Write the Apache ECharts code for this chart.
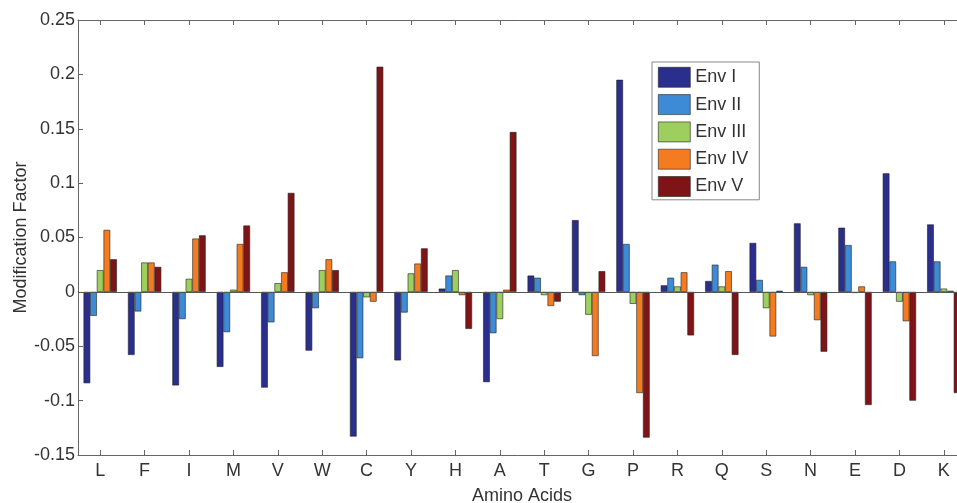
<!DOCTYPE html>
<html>
<head>
<meta charset="utf-8">
<script src="https://cdn.jsdelivr.net/npm/echarts@6/dist/echarts.min.js"></script>
<style>
    html, body { margin: 0; padding: 0; background: #fff; }
    #chart { width: 957px; height: 503px; }
</style>
</head>
<body>
<div id="chart"></div>
<script>
    // amino acids on the x axis
    const aminoAcids = ['L', 'F', 'I', 'M', 'V', 'W', 'C', 'Y', 'H', 'A', 'T', 'G', 'P', 'R', 'Q', 'S', 'N', 'E', 'D', 'K'];

    const envNames = ['Env I', 'Env II', 'Env III', 'Env IV', 'Env V'];

    // modification factor per environment
    const envI   = [-0.084, -0.058, -0.086, -0.069, -0.088, -0.054, -0.133, -0.063, 0.003, -0.083, 0.015, 0.066, 0.195, 0.006, 0.010, 0.045, 0.063, 0.059, 0.109, 0.062];
    const envII  = [-0.022, -0.018, -0.025, -0.037, -0.028, -0.015, -0.061, -0.019, 0.015, -0.038, 0.013, -0.003, 0.044, 0.013, 0.025, 0.011, 0.023, 0.043, 0.028, 0.028];
    const envIII = [0.020, 0.027, 0.012, 0.002, 0.008, 0.020, -0.005, 0.017, 0.020, -0.025, -0.003, -0.021, -0.011, 0.005, 0.005, -0.015, -0.003, -0.001, -0.009, 0.003];
    const envIV  = [0.057, 0.027, 0.049, 0.044, 0.018, 0.030, -0.009, 0.026, -0.003, 0.002, -0.013, -0.059, -0.093, 0.018, 0.019, -0.041, -0.026, 0.005, -0.027, 0.001];
    const envV   = [0.030, 0.023, 0.052, 0.061, 0.091, 0.020, 0.207, 0.040, -0.034, 0.147, -0.009, 0.019, -0.134, -0.040, -0.058, 0.001, -0.055, -0.104, -0.100, -0.093];

    const envColors = ['#2a2e8c', '#3d8bd6', '#9ccf5c', '#f47b20', '#7f1416'];

    // y axis range
    const yMin = -0.15;
    const yMax = 0.25;
    const yStep = 0.05;

    const font = 'Liberation Sans, Arial, sans-serif';
    const axisColor = '#666';

    const seriesData = [envI, envII, envIII, envIV, envV];

    const series = seriesData.map((values, i) => ({
        name: envNames[i],
        type: 'bar',
        data: values,
        barGap: '0%',
        barCategoryGap: '25%',
        itemStyle: {
            color: envColors[i],
            borderColor: '#222',
            borderWidth: 0.6
        }
    }));

    // zero baseline
    series[0].markLine = {
        silent: true,
        symbol: 'none',
        label: { show: false },
        lineStyle: { color: '#555', width: 1, type: 'solid' },
        data: [{ yAxis: 0 }]
    };

    const option = {
        animation: false,
        textStyle: { fontFamily: font },
        color: envColors,
        grid: {
            left: 78,
            top: 20,
            width: 888,
            height: 435,
            outerBoundsMode: 'none'
        },
        legend: {
            orient: 'vertical',
            left: 652,
            top: 62,
            itemWidth: 32,
            itemHeight: 20,
            itemGap: 6.7,
            padding: [5, 11, 3, 6],
            borderColor: '#888',
            borderWidth: 1,
            icon: 'rect',
            textStyle: { fontSize: 18, color: '#333', fontFamily: font },
            itemStyle: { borderColor: '#222', borderWidth: 0.6 },
            data: envNames
        },
        xAxis: [{
            type: 'category',
            data: aminoAcids,
            position: 'bottom',
            name: 'Amino Acids',
            nameLocation: 'middle',
            nameGap: 32,
            nameMoveOverlap: false,
            nameTextStyle: { fontSize: 18, color: '#333', fontFamily: font },
            axisLine: { show: true, onZero: false, lineStyle: { color: axisColor } },
            axisTick: { show: true, inside: true, length: 5, alignWithLabel: true, lineStyle: { color: axisColor } },
            axisLabel: { fontSize: 18, color: '#333', margin: 7, fontFamily: font },
            splitLine: { show: false }
        }, {
            type: 'category',
            data: aminoAcids,
            position: 'top',
            axisLine: { show: true, onZero: false, lineStyle: { color: axisColor } },
            axisTick: { show: true, inside: true, length: 5, alignWithLabel: true, lineStyle: { color: axisColor } },
            axisLabel: { show: false },
            splitLine: { show: false }
        }],
        yAxis: {
            type: 'value',
            min: yMin,
            max: yMax,
            interval: yStep,
            name: 'Modification Factor',
            nameLocation: 'middle',
            nameGap: 48,
            nameMoveOverlap: false,
            nameTextStyle: { fontSize: 18, color: '#333', fontFamily: font },
            axisLine: { show: true, lineStyle: { color: axisColor } },
            axisTick: { show: true, inside: true, length: 5, lineStyle: { color: axisColor } },
            axisLabel: {
                fontSize: 18,
                color: '#333',
                margin: 3,
                fontFamily: font,
                formatter: v => String(parseFloat(v.toFixed(2)))
            },
            splitLine: { show: false }
        },
        series: series
    };

    echarts.init(document.getElementById('chart')).setOption(option);
</script>
</body>
</html>
